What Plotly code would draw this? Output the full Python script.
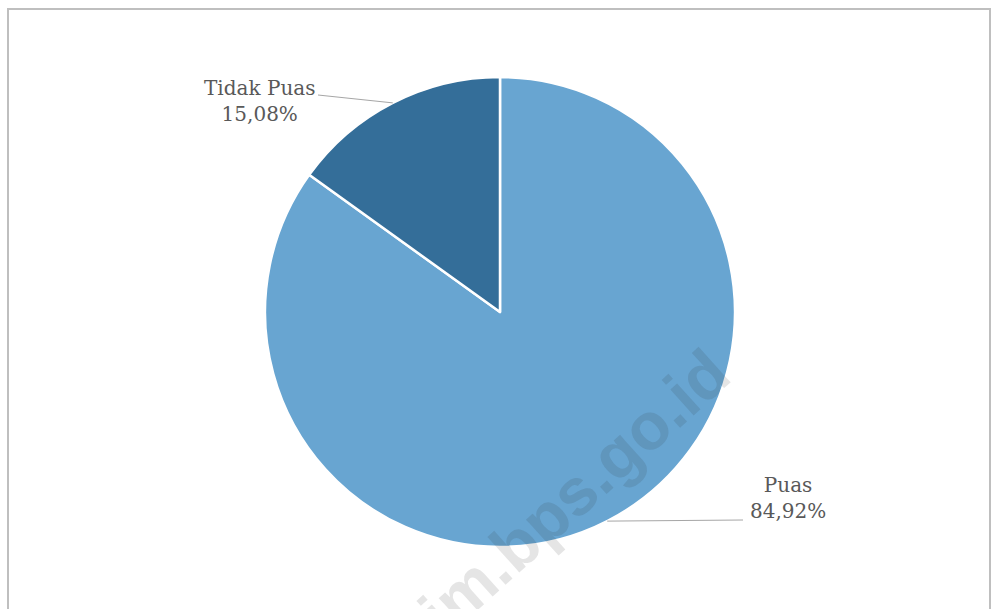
import math
import plotly.graph_objects as go

# Survey result: satisfaction share
categories = ["Puas", "Tidak Puas"]
values = [84.92, 15.08]
colors = ["#68a5d1", "#346e99"]

W, H = 992, 609
CX, CY, R = 500, 312, 235  # pie centre and radius in pixels


def px_to_paper(x, y):
    return x / W, 1 - y / H


def fmt(v):
    return f"{v:.2f}".replace(".", ",") + "%"


def edge_point(idx):
    # mid angle of slice idx, measured clockwise from 12 o'clock
    total = sum(values)
    start = sum(values[:idx]) / total * 360
    mid = start + values[idx] / total * 180
    a = math.radians(mid)
    return CX + R * math.sin(a), CY - R * math.cos(a)


x0, y1 = px_to_paper(CX - R, CY - R)
x1, y0 = px_to_paper(CX + R, CY + R)

fig = go.Figure(
    go.Pie(
        labels=categories,
        values=values,
        sort=False,
        direction="clockwise",
        rotation=0,
        marker=dict(colors=colors, line=dict(color="white", width=2.5)),
        textinfo="none",
        hoverinfo="label+percent",
        domain=dict(x=[x0, x1], y=[y0, y1]),
        showlegend=False,
    )
)

label_font = dict(family="DejaVu Serif", size=20, color="#595959")

# label anchors (pixel) : (text x centre, text y centre, line end x, line end y)
label_pos = {
    "Tidak Puas": (259, 101, 318, 95),
    "Puas": (788, 498, 743, 520),
}

annotations = []
shapes = []
for i, name in enumerate(categories):
    tx, ty, lx, ly = label_pos[name]
    ax, ay = px_to_paper(tx, ty)
    annotations.append(dict(
        x=ax, y=ay, xref="paper", yref="paper",
        text=f"{name}<br>{fmt(values[i])}",
        showarrow=False, align="center", font=label_font,
        xanchor="center", yanchor="middle",
    ))
    ex, ey = edge_point(i)
    p0 = px_to_paper(ex, ey)
    p1 = px_to_paper(lx, ly)
    shapes.append(dict(
        type="line", xref="paper", yref="paper",
        x0=p0[0], y0=p0[1], x1=p1[0], y1=p1[1],
        line=dict(color="#a6a6a6", width=1),
    ))

# outer chart frame
fx0, fy0 = px_to_paper(8, 9)
fx1, fy1 = px_to_paper(990, 640)
shapes.append(dict(
    type="rect", xref="paper", yref="paper",
    x0=fx0, y0=fy1, x1=fx1, y1=fy0,
    line=dict(color="#bfbfbf", width=2), fillcolor="rgba(0,0,0,0)",
))

# watermark
wx, wy = px_to_paper(560, 505)
annotations.append(dict(
    x=wx, y=wy, xref="paper", yref="paper",
    xanchor="center", yanchor="middle",
    text="<b>sim.bps.go.id</b>", showarrow=False, textangle=-42,
    font=dict(family="Liberation Sans", size=66, color="rgba(40,40,40,0.12)"),
))

fig.update_layout(
    width=W, height=H,
    margin=dict(l=0, r=0, t=0, b=0),
    paper_bgcolor="white", plot_bgcolor="white",
    annotations=annotations, shapes=shapes,
)

fig.write_html("out.html")
